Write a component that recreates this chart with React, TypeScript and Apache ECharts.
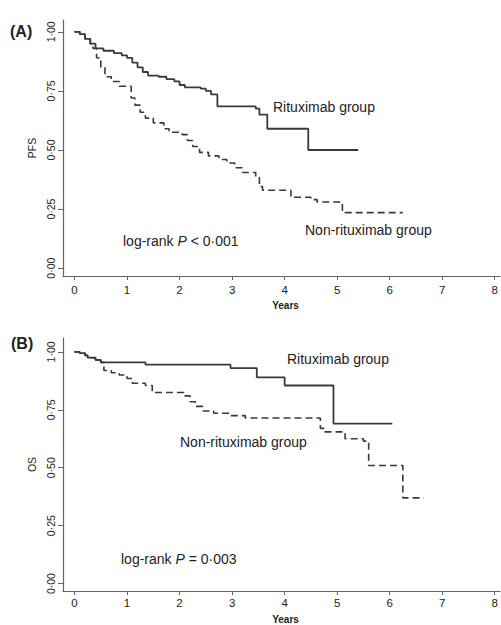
import React, { useEffect, useRef } from "react";
import * as echarts from "echarts";

const xTicks = [0, 1, 2, 3, 4, 5, 6, 7, 8];
const yTicks = [0, 0.25, 0.5, 0.75, 1];

// Panel A: PFS (time in years, survival)
const pfsRituximab: [number, number][] = [
  [0, 1], [0.1, 0.99], [0.2, 0.97], [0.3, 0.95], [0.4, 0.93], [0.55, 0.92], [0.75, 0.91],
  [0.9, 0.9], [1.0, 0.89], [1.1, 0.87], [1.2, 0.85], [1.3, 0.83], [1.4, 0.815], [1.6, 0.81],
  [1.75, 0.8], [1.9, 0.79], [2.0, 0.775], [2.1, 0.765], [2.4, 0.76], [2.5, 0.75], [2.6, 0.735],
  [2.72, 0.685], [3.45, 0.675], [3.52, 0.65], [3.67, 0.59], [4.45, 0.5], [5.4, 0.5],
];
const pfsNonRituximab: [number, number][] = [
  [0, 1], [0.1, 0.99], [0.2, 0.97], [0.3, 0.95], [0.35, 0.93], [0.42, 0.89], [0.5, 0.85],
  [0.58, 0.81], [0.7, 0.79], [0.85, 0.77], [1.08, 0.72], [1.15, 0.69], [1.25, 0.66],
  [1.35, 0.635], [1.5, 0.615], [1.7, 0.59], [1.8, 0.575], [2.05, 0.565], [2.15, 0.54],
  [2.25, 0.515], [2.38, 0.49], [2.55, 0.475], [2.75, 0.46], [2.9, 0.445], [3.05, 0.425],
  [3.2, 0.405], [3.45, 0.39], [3.52, 0.345], [3.58, 0.33], [4.12, 0.3], [4.5, 0.29],
  [4.62, 0.28], [5.1, 0.235], [6.25, 0.235],
];

// Panel B: OS
const osRituximab: [number, number][] = [
  [0, 1], [0.1, 0.995], [0.2, 0.985], [0.25, 0.975], [0.4, 0.965], [0.5, 0.955],
  [1.35, 0.945], [2.97, 0.93], [3.47, 0.89], [4.0, 0.855], [4.93, 0.69], [6.05, 0.69],
];
const osNonRituximab: [number, number][] = [
  [0, 1], [0.1, 0.995], [0.2, 0.985], [0.25, 0.975], [0.4, 0.965], [0.5, 0.955],
  [0.56, 0.92], [0.7, 0.91], [0.85, 0.9], [1.0, 0.885], [1.1, 0.865], [1.35, 0.855],
  [1.48, 0.825], [2.08, 0.81], [2.2, 0.785], [2.3, 0.765], [2.45, 0.745], [2.65, 0.735],
  [2.95, 0.725], [3.25, 0.715], [4.68, 0.67], [4.75, 0.655], [5.15, 0.625], [5.5, 0.615],
  [5.6, 0.51], [6.25, 0.37], [6.65, 0.37],
];

const FONT = "'Liberation Sans', Arial, sans-serif";
const AXIS = "#666";
const LINE = "#3a3a3a";
const TEXT = "#222";

const fmtY = (v: number) => v.toFixed(2).replace(".", "·");

function xAxisCfg(gridIndex: number, nameGap: number, labelMargin: number) {
  return {
    type: "value" as const,
    gridIndex,
    min: -0.219,
    max: 8.1,
    name: "Years",
    nameLocation: "middle" as const,
    nameGap,
    nameTextStyle: { fontFamily: FONT, fontSize: 10, fontWeight: "bold" as const, color: TEXT, padding: [0, 0, 0, 8] },
    axisLine: { show: true, onZero: false, lineStyle: { color: AXIS, width: 1.2 } },
    axisTick: { show: true, length: 4, customValues: xTicks, lineStyle: { color: AXIS } },
    axisLabel: {
      customValues: xTicks,
      margin: labelMargin,
      fontFamily: FONT,
      fontSize: 11.5,
      color: TEXT,
    },
    splitLine: { show: false },
  };
}

function yAxisCfg(gridIndex: number, name: string, min: number, max: number) {
  return {
    type: "value" as const,
    gridIndex,
    min,
    max,
    name,
    nameLocation: "middle" as const,
    nameGap: 26,
    nameRotate: 90,
    nameTextStyle: { fontFamily: FONT, fontSize: 10.5, color: TEXT },
    axisLine: { show: true, onZero: false, lineStyle: { color: AXIS, width: 1.2 } },
    axisTick: { show: true, length: 5, customValues: yTicks, lineStyle: { color: AXIS } },
    axisLabel: {
      customValues: yTicks,
      rotate: 90,
      margin: 7,
      fontFamily: FONT,
      fontSize: 10.5,
      color: TEXT,
      formatter: fmtY,
    },
    splitLine: { show: false },
  };
}

function stepSeries(data: [number, number][], idx: number, dashed: boolean) {
  return {
    type: "line" as const,
    xAxisIndex: idx,
    yAxisIndex: idx,
    data,
    step: "end" as const,
    showSymbol: false,
    symbol: "none",
    lineStyle: {
      color: LINE,
      width: dashed ? 1.6 : 1.8,
      type: dashed ? [7, 4] : "solid",
    },
  };
}

function label(text: string, x: number, y: number, size = 14) {
  return {
    type: "text" as const,
    left: x,
    top: y - size / 2 - 1,
    style: { text, fontFamily: FONT, fontSize: size, fill: TEXT },
  };
}

function logRank(rest: string, x: number, y: number) {
  return {
    type: "text" as const,
    left: x,
    top: y - 8,
    style: {
      text: "{a|log-rank }{i|P}{a|" + rest + "}",
      rich: {
        a: { fontFamily: FONT, fontSize: 14, fill: TEXT },
        i: { fontFamily: FONT, fontSize: 14, fontStyle: "italic", fill: TEXT },
      },
    },
  };
}

export default function App() {
  const ref = useRef<HTMLDivElement>(null);
  useEffect(() => {
    if (!ref.current) return;
    const chart = echarts.init(ref.current, undefined, { renderer: "svg" });
    chart.setOption({
      animation: false,
      backgroundColor: "#ffffff",
      grid: [
        { left: 63, top: 20, width: 437, height: 256 },
        { left: 63, top: 338, width: 437, height: 255 },
      ],
      xAxis: [xAxisCfg(0, 24, 8), xAxisCfg(1, 23, 6)],
      yAxis: [yAxisCfg(0, "PFS", -0.033, 1.05), yAxisCfg(1, "OS", -0.032, 1.06)],
      series: [
        stepSeries(pfsRituximab, 0, false),
        stepSeries(pfsNonRituximab, 0, true),
        stepSeries(osRituximab, 1, false),
        stepSeries(osNonRituximab, 1, true),
      ],
      graphic: [
        {
          type: "text",
          left: 10,
          top: 23,
          style: { text: "(A)", fontFamily: FONT, fontSize: 16, fontWeight: "bold", fill: TEXT },
        },
        {
          type: "text",
          left: 11,
          top: 335,
          style: { text: "(B)", fontFamily: FONT, fontSize: 16, fontWeight: "bold", fill: TEXT },
        },
        label("Rituximab group", 273, 108),
        label("Non-rituximab group", 305, 231),
        logRank(" < 0·001", 123, 242),
        label("Rituximab group", 287, 360),
        label("Non-rituximab group", 180, 443),
        logRank(" = 0·003", 121, 560),
      ],
    });
    return () => chart.dispose();
  }, []);
  return (
    <div
      ref={ref}
      style={{ position: "fixed", left: 0, top: 0, width: 501, height: 625, background: "#fff" }}
    />
  );
}
